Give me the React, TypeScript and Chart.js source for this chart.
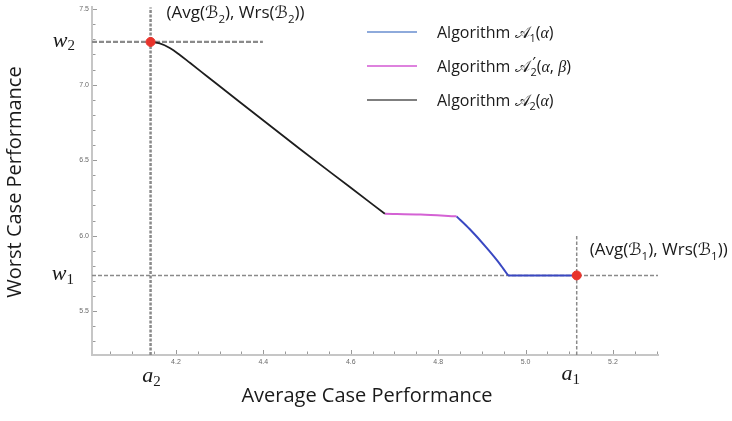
import { useEffect, useRef } from 'react';
import { Chart, registerables } from 'chart.js';

Chart.register(...registerables);

// ---- data ----
const xRange = [4.008, 5.303];
const yRange = [5.21, 7.513];
const xMajorStep = 0.2;
const xMinorStep = 0.05;
const yMajorStep = 0.5;
const yMinorStep = 0.1;

const a2 = 4.142;
const a1 = 5.117;
const w2 = 7.283;
const w1 = 5.737;
const w2LineEnd = 4.399;
const a1LineTop = 6.0;

// Algorithm A2(alpha) - black
const blackX = [4.143, 4.163, 4.186, 4.209, 4.232, 4.271, 4.346, 4.483, 4.598, 4.678];
const blackY = [7.283, 7.273, 7.243, 7.197, 7.145, 7.056, 6.885, 6.576, 6.322, 6.145];
// Algorithm A'2(alpha, beta) - pink
const pinkX = [4.678, 4.76, 4.842];
const pinkY = [6.145, 6.14, 6.128];
// Algorithm A1(alpha) - blue: curved descent, then flat part
const blueCurveX = [4.842, 4.872, 4.91, 4.941, 4.96];
const blueCurveY = [6.128, 6.044, 5.923, 5.814, 5.737];
const blueFlatX = [4.96, 5.117];
const blueFlatY = [5.737, 5.737];

const pointX = [a2, a1];
const pointY = [w2, w1];

const legendColors = ['#8eaadb', '#de82de', '#7f7f7f'];

const SANS = "'Open Sans', 'DejaVu Sans', sans-serif";
const SERIF = "'Liberation Serif', 'DejaVu Serif', serif";
const MATH = "'DejaVu Sans', 'DejaVu Serif', 'Noto Sans', serif";

type Seg = { t: string; sub?: boolean; it?: boolean; fam?: string; prime?: boolean };

const zip = (xs: number[], ys: number[]) => xs.map((x, i) => ({ x, y: ys[i] }));

function drawRich(
  ctx: CanvasRenderingContext2D,
  segs: Seg[],
  x: number,
  y: number,
  size: number,
  family: string,
  align: 'left' | 'center' | 'right' = 'left',
  subScale = 0.68,
  subDy = 0.28,
) {
  const fontFor = (s: Seg) => {
    const sz = s.sub ? size * subScale : size;
    return `${s.it ? 'italic ' : ''}${sz}px ${s.fam || family}`;
  };
  // prime segments take only a small advance (stacked over following subscript)
  const adv = (s: Seg) => {
    ctx.font = fontFor(s);
    return s.prime ? 1 : ctx.measureText(s.t).width;
  };
  let w = 0;
  for (const s of segs) w += adv(s);
  let cx = align === 'center' ? x - w / 2 : align === 'right' ? x - w : x;
  ctx.textAlign = 'left';
  ctx.textBaseline = 'alphabetic';
  for (const s of segs) {
    ctx.font = fontFor(s);
    const dy = s.sub ? size * subDy : s.prime ? -size * 0.18 : 0;
    ctx.fillText(s.t, cx + (s.prime ? 3 : 0), y + dy);
    cx += adv(s);
  }
  return w;
}

const legendSegs: Seg[][] = [
  [
    { t: 'Algorithm ' },
    { t: '𝒜', fam: MATH },
    { t: '1', sub: true },
    { t: '(' },
    { t: 'α', it: true, fam: SERIF },
    { t: ')' },
  ],
  [
    { t: 'Algorithm ' },
    { t: '𝒜', fam: MATH },
    { t: '′', prime: true, fam: MATH },
    { t: '2', sub: true },
    { t: '(' },
    { t: 'α', it: true, fam: SERIF },
    { t: ', ' },
    { t: 'β', it: true, fam: SERIF },
    { t: ')' },
  ],
  [
    { t: 'Algorithm ' },
    { t: '𝒜', fam: MATH },
    { t: '2', sub: true },
    { t: '(' },
    { t: 'α', it: true, fam: SERIF },
    { t: ')' },
  ],
];

const annot = (n: string): Seg[] => [
  { t: '(Avg(' },
  { t: 'ℬ', fam: MATH },
  { t: n, sub: true },
  { t: '), Wrs(' },
  { t: 'ℬ', fam: MATH },
  { t: n, sub: true },
  { t: '))' },
];

const mathLabel = (b: string, n: string): Seg[] => [
  { t: b, it: true },
  { t: n, sub: true },
];

const isMultiple = (v: number, step: number) => Math.abs(v / step - Math.round(v / step)) < 1e-6;

const makeTicks = (min: number, max: number, step: number) => {
  const out: { value: number }[] = [];
  const start = Math.ceil(min / step - 1e-9);
  const end = Math.floor(max / step + 1e-9);
  for (let i = start; i <= end; i++) out.push({ value: +(i * step).toFixed(4) });
  return out;
};

const decorPlugin = {
  id: 'decor',
  afterDraw(chart: any) {
    const ctx: CanvasRenderingContext2D = chart.ctx;
    const xs = chart.scales.x;
    const ys = chart.scales.y;
    const area = chart.chartArea;
    ctx.save();

    // inner tick marks
    ctx.strokeStyle = '#9a9a9a';
    ctx.lineWidth = 1;
    for (const t of xs.ticks) {
      const px = Math.round(xs.getPixelForValue(t.value)) + 0.5;
      const len = isMultiple(t.value, xMajorStep) ? 4 : 2.5;
      ctx.beginPath();
      ctx.moveTo(px, area.bottom - 1);
      ctx.lineTo(px, area.bottom - len - 1);
      ctx.stroke();
    }
    for (const t of ys.ticks) {
      const py = Math.round(ys.getPixelForValue(t.value)) + 0.5;
      const len = isMultiple(t.value, yMajorStep) ? 4 : 2.5;
      ctx.beginPath();
      ctx.moveTo(area.left + 1, py);
      ctx.lineTo(area.left + len + 1, py);
      ctx.stroke();
    }

    ctx.fillStyle = '#1a1a1a';
    // math labels
    const pw2 = ys.getPixelForValue(w2);
    const pw1 = ys.getPixelForValue(w1);
    const pa2 = xs.getPixelForValue(a2);
    const pa1 = xs.getPixelForValue(a1);
    drawRich(ctx, mathLabel('w', '2'), 75, pw2 + 5, 22, SERIF, 'right', 0.68, 0.16);
    drawRich(ctx, mathLabel('w', '1'), 74, pw1 + 5, 22, SERIF, 'right', 0.68, 0.16);
    drawRich(ctx, mathLabel('a', '2'), pa2 + 1, 382, 22, SERIF, 'center', 0.68, 0.16);
    drawRich(ctx, mathLabel('a', '1'), pa1 - 6, 380, 22, SERIF, 'center', 0.68, 0.16);

    // point annotations
    drawRich(ctx, annot('2'), pa2 + 16, 18, 17, SANS, 'left');
    drawRich(ctx, annot('1'), pa1 + 13, 255, 17, SANS, 'left');

    // legend
    legendSegs.forEach((segs, i) => {
      const ly = 32 + i * 34;
      ctx.strokeStyle = legendColors[i];
      ctx.lineWidth = 2;
      ctx.beginPath();
      ctx.moveTo(367, ly);
      ctx.lineTo(417, ly);
      ctx.stroke();
      ctx.fillStyle = '#1a1a1a';
      drawRich(ctx, segs, 437, ly + 6, 16, SANS, 'left');
    });

    // axis titles
    ctx.fillStyle = '#1a1a1a';
    ctx.font = `20px ${SANS}`;
    ctx.textAlign = 'center';
    ctx.textBaseline = 'middle';
    ctx.fillText('Average Case Performance', 367, 396);
    ctx.save();
    ctx.translate(15, 182);
    ctx.rotate(-Math.PI / 2);
    ctx.fillText('Worst Case Performance', 0, 0);
    ctx.restore();

    ctx.restore();
  },
};

export default function App() {
  const ref = useRef<HTMLCanvasElement | null>(null);
  useEffect(() => {
    if (!ref.current) return;
    const dashGray = '#8a8a8a';
    const curve = (xs: number[], ys: number[], color: string, width: number) => ({
      data: zip(xs, ys),
      borderColor: color,
      borderWidth: width,
      showLine: true,
      pointRadius: 0,
      cubicInterpolationMode: 'monotone' as const,
      order: 1,
    });
    const dashed = (pts: { x: number; y: number }[], width: number, dash: number[]) => ({
      data: pts,
      borderColor: dashGray,
      borderWidth: width,
      borderDash: dash,
      showLine: true,
      pointRadius: 0,
      order: 2,
    });
    const chart = new Chart(ref.current, {
      type: 'scatter',
      data: {
        datasets: [
          {
            data: zip(pointX, pointY),
            backgroundColor: '#e8332b',
            borderColor: '#e8332b',
            pointRadius: 4.5,
            showLine: false,
            order: 0,
          },
          curve(blackX, blackY, '#1e1e1e', 1.8),
          curve(pinkX, pinkY, '#d462d4', 2),
          curve(blueCurveX, blueCurveY, '#3a48c2', 2),
          curve(blueFlatX, blueFlatY, '#3a48c2', 2),
          dashed([{ x: a2, y: yRange[0] }, { x: a2, y: yRange[1] }], 2.5, [3, 1.5]),
          dashed([{ x: xRange[0], y: w2 }, { x: w2LineEnd, y: w2 }], 2.2, [5, 2]),
          dashed([{ x: xRange[0], y: w1 }, { x: xRange[1], y: w1 }], 1.5, [4, 2]),
          dashed([{ x: a1, y: yRange[0] }, { x: a1, y: a1LineTop }], 1.5, [3.5, 2]),
        ] as any,
      },
      options: {
        responsive: false,
        animation: false,
        events: [],
        layout: { padding: { left: 0, right: 74, top: 5, bottom: 0 } },
        plugins: { legend: { display: false }, tooltip: { enabled: false } },
        scales: {
          x: {
            type: 'linear',
            min: xRange[0],
            max: xRange[1],
            afterBuildTicks: (s: any) => {
              s.ticks = makeTicks(xRange[0], xRange[1], xMinorStep);
            },
            afterFit: (s: any) => {
              s.height = 66;
            },
            grid: { display: true, drawOnChartArea: false, drawTicks: false, color: 'rgba(0,0,0,0)' },
            border: { display: true, color: '#c6c6c6', width: 2 },
            ticks: {
              autoSkip: false,
              maxRotation: 0,
              padding: 3,
              color: '#6a6a6a',
              font: { size: 7, family: "'Liberation Sans', sans-serif" },
              callback: (v: any) => (isMultiple(Number(v), xMajorStep) ? Number(v).toFixed(1) : ''),
            },
          },
          y: {
            type: 'linear',
            min: yRange[0],
            max: yRange[1],
            afterBuildTicks: (s: any) => {
              s.ticks = makeTicks(yRange[0], yRange[1], yMinorStep);
            },
            afterFit: (s: any) => {
              s.width = 92;
            },
            grid: { display: true, drawOnChartArea: false, drawTicks: false, color: 'rgba(0,0,0,0)' },
            border: { display: true, color: '#c6c6c6', width: 2 },
            ticks: {
              autoSkip: false,
              padding: 3,
              color: '#6a6a6a',
              font: { size: 7, family: "'Liberation Sans', sans-serif" },
              callback: (v: any) => (isMultiple(Number(v), yMajorStep) ? Number(v).toFixed(1) : ''),
            },
          },
        },
      },
      plugins: [decorPlugin],
    });
    return () => chart.destroy();
  }, []);

  return (
    <div style={{ position: 'absolute', left: 0, top: 0, width: 732, height: 421, background: '#fff' }}>
      <canvas ref={ref} width={732} height={421} />
    </div>
  );
}
